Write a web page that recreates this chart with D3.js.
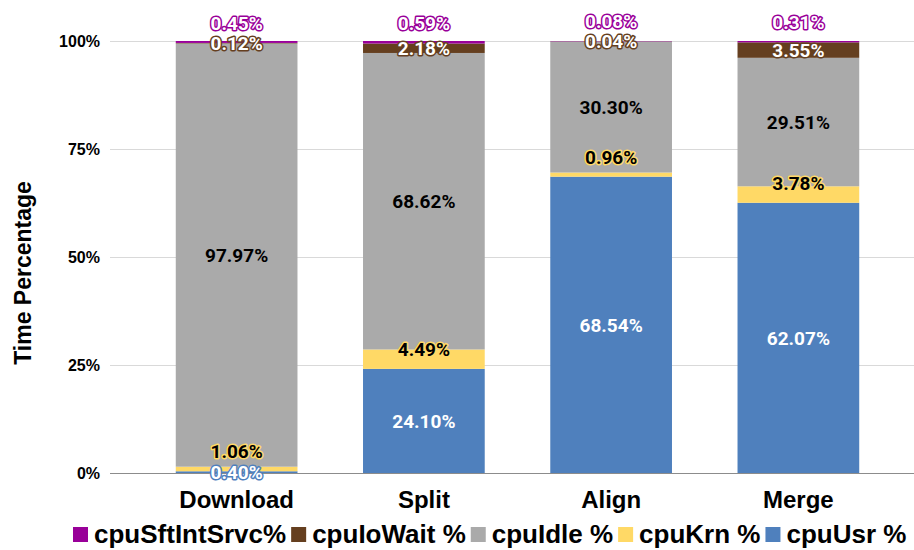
<!doctype html>
<html lang="en">
<head>
  <meta charset="utf-8">
  <title>CPU time by stage</title>
  <script src="https://cdn.jsdelivr.net/npm/d3@7"></script>
  <style>
    body { margin: 0; background: #fff; }
    svg text { font-family: "Liberation Sans", Arial, sans-serif; font-weight: bold; }
    .lbl { font-family: Roboto, "Noto Sans", sans-serif; font-size: 19px; paint-order: stroke; stroke-width: 3px; stroke-linejoin: round; }
  </style>
</head>
<body>
<svg id="chart" width="914" height="550"></svg>
<script>

// stages along the x axis
var stages = ["Download", "Split", "Align", "Merge"];

// series, bottom to top
var seriesKeys = ["cpuUsr", "cpuKrn", "cpuIdle", "cpuIoWait", "cpuSftIntSrvc"];
var seriesNames = ["cpuUsr %", "cpuKrn %", "cpuIdle %", "cpuIoWait %", "cpuSftIntSrvc%"];
var seriesColors = ["#4f80bd", "#ffd966", "#aaaaaa", "#653f1f", "#990099"];
var labelFill = ["#fff", "#000", "#000", "#fff", "#fff"];

// values per series, in stage order
var cpuUsr        = [0.40, 24.10, 68.54, 62.07];
var cpuKrn        = [1.06,  4.49,  0.96,  3.78];
var cpuIdle       = [97.97, 68.62, 30.30, 29.51];
var cpuIoWait     = [0.12,  2.18,  0.04,  3.55];
var cpuSftIntSrvc = [0.45,  0.59,  0.08,  0.31];

var yTicks = [0, 0.25, 0.5, 0.75, 1];

var rows = stages.map(function(s, i) {
  return { stage: s, cpuUsr: cpuUsr[i], cpuKrn: cpuKrn[i], cpuIdle: cpuIdle[i],
           cpuIoWait: cpuIoWait[i], cpuSftIntSrvc: cpuSftIntSrvc[i] };
});

var svg = d3.select("#chart");

var x = d3.scaleBand().domain(stages).range([143, 892]).paddingInner(0.35).paddingOuter(0.175);
var y = d3.scaleLinear().domain([0, 1]).range([473, 41]);

var stack = d3.stack().keys(seriesKeys).offset(d3.stackOffsetExpand);
var layers = stack(rows);

// grid lines
svg.append("g").selectAll("line").data(yTicks.filter(function(t) { return t > 0; }))
  .join("line")
  .attr("x1", 110).attr("x2", 914)
  .attr("y1", function(d) { return Math.round(y(d)) + 0.5; })
  .attr("y2", function(d) { return Math.round(y(d)) + 0.5; })
  .attr("stroke", "#d9d9d9").attr("stroke-width", 1);

// y tick labels
var yAxis = d3.axisLeft(y).tickValues(yTicks).tickSize(0).tickPadding(0)
  .tickFormat(d3.format(".0%"));
var ya = svg.append("g").attr("transform", "translate(100,0)").call(yAxis);
ya.select(".domain").remove();
ya.selectAll("text").attr("font-size", 16).attr("font-family", null).attr("fill", "#000");

// bars
svg.append("g").selectAll("g").data(layers).join("g")
  .attr("fill", function(d, i) { return seriesColors[i]; })
  .selectAll("rect").data(function(d) { return d; }).join("rect")
  .attr("x", function(d) { return x(d.data.stage); })
  .attr("width", x.bandwidth())
  .attr("y", function(d) { return y(d[1]); })
  .attr("height", function(d) { return y(d[0]) - y(d[1]); });

// baseline
svg.append("line")
  .attr("x1", 110).attr("x2", 914).attr("y1", 473.5).attr("y2", 473.5)
  .attr("stroke", "#8c8c8c").attr("stroke-width", 1);

// x labels
var xAxis = d3.axisBottom(x).tickSize(0).tickPadding(0);
var xa = svg.append("g").attr("transform", "translate(0,491)").call(xAxis);
xa.select(".domain").remove();
xa.selectAll("text").attr("font-size", 24).attr("font-family", null).attr("fill", "#000")
  .attr("dy", "0.71em");

// data labels: thin krn / sft segments get their label lifted above the segment
var lifted = { cpuKrn: true, cpuSftIntSrvc: true };
var labels = svg.append("g");
layers.forEach(function(layer, i) {
  layer.forEach(function(d, j) {
    var raw = rows[j][layer.key];
    var top = y(d[1]), bot = y(d[0]);
    var ly = (top + bot) / 2;
    if (lifted[layer.key] && bot - top < 22) ly = bot - 20;
    labels.append("text")
      .attr("class", "lbl")
      .attr("x", x(d.data.stage) + x.bandwidth() / 2)
      .attr("y", ly)
      .attr("dy", "0.36em")
      .attr("text-anchor", "middle")
      .attr("fill", labelFill[i])
      .attr("stroke", seriesColors[i])
      .text(raw.toFixed(2) + "%");
  });
});

// y title
svg.append("text")
  .attr("transform", "translate(31,273) rotate(-90)")
  .attr("text-anchor", "middle")
  .attr("font-size", 23)
  .text("Time Percentage");

// legend, top series first
var legend = svg.append("g").attr("transform", "translate(0,534)");
var lx = 73;
[4, 3, 2, 1, 0].forEach(function(i) {
  legend.append("rect").attr("x", lx).attr("y", -7).attr("width", 15).attr("height", 15)
    .attr("fill", seriesColors[i]);
  var t = legend.append("text").attr("x", lx + 21).attr("y", 0).attr("dy", "0.36em")
    .attr("font-size", 26).text(seriesNames[i]);
  lx += 21 + t.node().getComputedTextLength() + 5;
});

</script>
</body>
</html>
